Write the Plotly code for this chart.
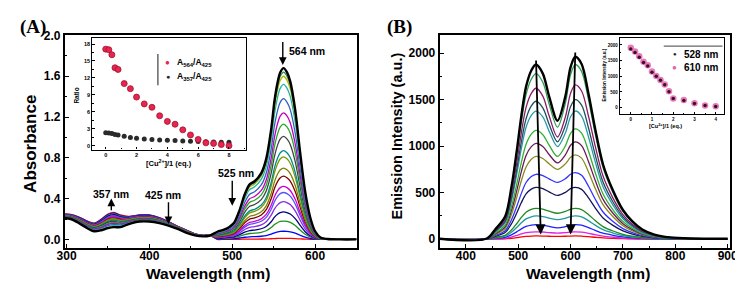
import plotly.graph_objects as go

W, H = 743, 282
def PX(p): return p / W
def PY(p): return 1 - p / H

# ---------------- Panel A: absorption titration ----------------
uv_wl   = [298, 305, 315, 325, 333, 342, 350, 357, 365, 375, 388, 400, 412, 423, 435, 445, 455, 465, 472]
uv_low  = [0.21, 0.20, 0.16, 0.11, 0.08, 0.09, 0.11, 0.12, 0.12, 0.15, 0.175, 0.175, 0.16, 0.135, 0.10, 0.065, 0.04, 0.03, 0.035]
uv_high = [0.25, 0.245, 0.22, 0.18, 0.16, 0.20, 0.25, 0.265, 0.24, 0.225, 0.24, 0.24, 0.215, 0.175, 0.125, 0.09, 0.055, 0.04, 0.045]
vis_wl  = [482, 490, 496, 502, 509, 515, 521, 527, 535, 541, 547, 551, 555, 558, 562, 566, 570, 576, 582, 588, 594, 600, 607, 615, 630, 650]
vis_top = [0.075, 0.095, 0.12, 0.16, 0.29, 0.44, 0.54, 0.57, 0.65, 0.79, 1.08, 1.36, 1.55, 1.64, 1.68, 1.64, 1.55, 1.27, 0.85, 0.47, 0.22, 0.08, 0.016, 0.004, 0.0, 0.0]
peak564 = [1.68, 1.64, 1.60, 1.52, 1.38, 1.24, 1.13, 1.01, 0.87, 0.81, 0.70, 0.62, 0.52, 0.46, 0.37, 0.27, 0.18, 0.08, 0.01]
colors_A = ["#000000", "#2e8b57", "#b5b800", "#20b2aa", "#3060c0", "#c000c0", "#22aa22", "#404040",
            "#008b8b", "#7a9a00", "#808000", "#800000", "#d000d0", "#5050ff", "#8a2be2", "#000080",
            "#209020", "#0000ff", "#ff0000"]

# inset A
cu_A = [0, 0.2, 0.4, 0.6, 0.8, 1.2, 1.6, 2.0, 2.5, 3.0, 3.5, 4.0, 4.5, 5.0, 5.5, 6.0, 6.5, 7.0, 7.5, 8.0]
ratio_564 = [17.1, 17.0, 16.1, 13.8, 13.5, 11.0, 10.1, 8.6, 7.4, 6.8, 5.3, 4.3, 3.8, 2.8, 1.9, 1.1, 0.5, 0.4, 0.2, 0.0]
ratio_357 = [2.3, 2.25, 2.15, 2.0, 1.9, 1.65, 1.45, 1.3, 1.2, 1.1, 1.0, 0.95, 0.9, 0.85, 0.8, 0.75, 0.7, 0.65, 0.6, 0.6]

# ---------------- Panel B: emission titration ----------------
em_wl  = [350, 440, 456, 475, 487, 497, 506, 515, 525, 534, 547, 559, 575, 590, 600, 609, 621, 634, 647, 662, 681, 700, 718, 737, 760, 790, 830, 900]
em_top = [5, 8, 105, 244, 558, 942, 1326, 1640, 1814, 1878, 1780, 1536, 1274, 1536, 1850, 1961, 1884, 1570, 1186, 803, 523, 314, 192, 105, 50, 20, 8, 5]
em_p528   = [1878, 1780, 1623, 1483, 1378, 1169, 1030, 890, 698, 558, 332, 250, 157, 80, 35]
em_valley = [1274, 1204, 1099, 1047, 995, 890, 820, 750, 611, 471, 279, 210, 122, 65, 30]
em_p610   = [1961, 1878, 1658, 1500, 1378, 1187, 1047, 907, 715, 558, 332, 250, 157, 80, 35]
colors_B = ["#000000", "#2e9e4f", "#8b1a6b", "#1f4f5f", "#2a9aa8", "#33b033", "#6a1a5a", "#8a8a20",
            "#3333ff", "#14145a", "#228822", "#209a9a", "#2020ff", "#e020e0", "#ff0000"]

# inset B
cu_B = [0, 0.2, 0.4, 0.6, 0.8, 1.0, 1.2, 1.4, 1.6, 1.8, 2.0, 2.5, 3.0, 3.5, 4.0]
int_610 = [1910, 1790, 1640, 1460, 1350, 1150, 1010, 880, 740, 520, 290, 240, 140, 70, 40]
int_528 = [1870, 1760, 1610, 1440, 1330, 1130, 1000, 870, 730, 510, 290, 230, 130, 65, 35]

fig = go.Figure()

# Panel A curves (drawn bottom-first so the black curve is on top)
p0 = peak564[0]
for i in reversed(range(len(peak564))):
    s = peak564[i] / p0
    t = 1 - s
    uv = [lo + t * (hi - lo) for lo, hi in zip(uv_low, uv_high)]
    vis = [v * s for v in vis_top]
    fig.add_trace(go.Scatter(x=uv_wl + vis_wl, y=uv + vis, mode="lines",
                             line=dict(color=colors_A[i], width=2.4 if i == 0 else 1.3, shape="spline", smoothing=0.9),
                             xaxis="x", yaxis="y", showlegend=False, hoverinfo="skip"))

# Panel B curves
k1, kv, k2 = em_wl.index(534), em_wl.index(575), em_wl.index(609)
t1, tv, t2 = em_top[k1], em_top[kv], em_top[k2]
for i in reversed(range(len(em_p610))):
    p1, v, p2 = em_p528[i], em_valley[i], em_p610[i]
    ys = []
    for k, tval in enumerate(em_top):
        if k <= k1:
            ys.append(tval * p1 / t1)
        elif k < kv:
            f = (tval - tv) / (t1 - tv); ys.append(v + f * (p1 - v))
        elif k == kv:
            ys.append(v)
        elif k < k2:
            f = (tval - tv) / (t2 - tv); ys.append(v + f * (p2 - v))
        else:
            ys.append(tval * p2 / t2)
    fig.add_trace(go.Scatter(x=em_wl, y=ys, mode="lines",
                             line=dict(color=colors_B[i], width=2.4 if i == 0 else 1.3, shape="spline", smoothing=0.9),
                             xaxis="x2", yaxis="y2", showlegend=False, hoverinfo="skip"))

# Inset A
fig.add_trace(go.Scatter(x=cu_A, y=ratio_357, mode="markers",
                         marker=dict(color="#2a2a2a", size=5), xaxis="x3", yaxis="y3", showlegend=False))
fig.add_trace(go.Scatter(x=cu_A, y=ratio_564, mode="markers",
                         marker=dict(color="#e8254f", size=6, line=dict(color="#a01030", width=0.8)),
                         xaxis="x3", yaxis="y3", showlegend=False))
# Inset B
fig.add_trace(go.Scatter(x=cu_B, y=int_610, mode="markers",
                         marker=dict(color="rgba(230,100,170,0.85)", size=6.5), xaxis="x4", yaxis="y4", showlegend=False))
fig.add_trace(go.Scatter(x=cu_B, y=int_528, mode="markers",
                         marker=dict(color="#3a1030", size=3.5), xaxis="x4", yaxis="y4", showlegend=False))

BOLD = dict(family="Liberation Sans, Arial", color="black", weight="bold")
def tf(size):
    d = dict(BOLD); d["size"] = size; return d

def ax(domain, rng, anchor, dtick, tick0, minor_dtick, fsize, lw, tlen, fmt=None, standoff=0):
    d = dict(domain=domain, range=rng, anchor=anchor, showline=True, linecolor="black", linewidth=lw,
             mirror=True, ticks="inside", ticklen=tlen, tickwidth=1.2, tickcolor="black",
             showgrid=False, zeroline=False, tickmode="linear", dtick=dtick, tick0=tick0,
             tickfont=tf(fsize), ticklabelstandoff=standoff,
             minor=dict(dtick=minor_dtick, tick0=tick0, ticks="inside", ticklen=max(1, tlen / 2), tickcolor="black", showgrid=False))
    if fmt:
        d["tickformat"] = fmt
    return d

fig.update_layout(
    width=W, height=H, margin=dict(l=0, r=0, t=0, b=0),
    paper_bgcolor="white", plot_bgcolor="white", showlegend=False,
    xaxis=ax([PX(50), PX(348)], [298, 650], "y", 100, 300, 50, 12, 2, 4, standoff=-4),
    yaxis=ax([PY(239), PY(21)], [-0.085, 2.0], "x", 0.4, 0, 0.2, 12, 2, 4, ".1f"),
    xaxis2=ax([PX(433), PX(730)], [350, 905], "y2", 100, 400, 50, 12, 2, 4, standoff=-4),
    yaxis2=ax([PY(239), PY(21)], [-95, 2190], "x2", 500, 0, 250, 12, 2, 4),
    xaxis3=ax([PX(78), PX(235)], [-0.87, 9.1], "y3", 2, 0, 1, 5.5, 1.3, 2.5),
    yaxis3=ax([PY(138), PY(24)], [-0.69, 19.0], "x3", 3, 0, 1.5, 5.5, 1.3, 2.5),
    xaxis4=ax([PX(617), PX(724)], [-0.52, 4.41], "y4", 1, 0, 0.5, 4.5, 1.2, 2),
    yaxis4=ax([PY(102), PY(24)], [-218, 2208], "x4", 500, 0, 250, 4.5, 1.2, 2),
)

ann = []
def pa(text, x, y, size, xanchor="center", yanchor="middle", angle=0, family="Liberation Sans, Arial"):
    ann.append(dict(text=text, x=PX(x), y=PY(y), xref="paper", yref="paper", showarrow=False,
                    xanchor=xanchor, yanchor=yanchor, textangle=angle,
                    font=dict(family=family, size=size, color="black", weight="bold")))

# panel letters & axis titles
pa("(A)", 2, 12, 19, xanchor="left", family="Liberation Serif, Times New Roman")
pa("(B)", 377, 12, 19, xanchor="left", family="Liberation Serif, Times New Roman")
pa("Absorbance", 15.5, 132, 17, angle=-90)
pa("Wavelength (nm)", 196, 265, 15.5)
pa("Emission Intensity (a.u.)", 389, 124, 14.5, angle=-90)
pa("Wavelength (nm)", 585, 265, 15.5)
# inset titles
pa("Ratio", 62, 83, 6.5, angle=-90)
pa("[Cu<sup>2+</sup>]/1 (eq.)", 156, 152, 7.5)
pa("Emission Intensity (a.u.)", 601, 62, 4.6, angle=-90)
pa("[Cu<sup>2+</sup>]/1 (eq.)", 664, 114, 5.5)
# inset legends
pa("<span style='color:#e8254f'>●</span>", 155, 49, 8)
pa("<span style='color:#2a2a2a'>●</span>", 155, 63, 7)
pa("A<sub>564</sub>/A<sub>425</sub>", 162, 49, 8.5, xanchor="left")
pa("A<sub>357</sub>/A<sub>425</sub>", 162, 63, 8.5, xanchor="left")
pa("<span style='color:#222'>●</span>", 673, 40, 6)
pa("<span style='color:#e064aa'>●</span>", 673, 54, 8)
pa("528 nm", 681, 40, 10, xanchor="left")
pa("610 nm", 681, 54, 10, xanchor="left")

# peak labels panel A
def da(text, x, y, xr, yr, size=10.5, xanchor="center"):
    ann.append(dict(text=text, x=x, y=y, xref=xr, yref=yr, showarrow=False, xanchor=xanchor,
                    font=dict(family="Liberation Sans, Arial", size=size, color="black", weight="bold")))
def arrow(x0, y0, x1, y1, xr, yr, w=1.4):
    ann.append(dict(text="", x=x1, y=y1, ax=x0, ay=y0, xref=xr, yref=yr, axref=xr, ayref=yr,
                    showarrow=True, arrowhead=2, arrowsize=1.1, arrowwidth=w, arrowcolor="black"))

da("564 nm", 566, 1.85, "x", "y", xanchor="left")
arrow(561, 1.95, 561, 1.71, "x", "y")
da("525 nm", 504, 0.65, "x", "y")
arrow(500, 0.59, 500, 0.33, "x", "y")
da("425 nm", 416, 0.44, "x", "y")
arrow(423, 0.38, 423, 0.15, "x", "y")
da("357 nm", 354, 0.45, "x", "y")
arrow(354, 0.27, 354, 0.40, "x", "y")
# panel B arrows
arrow(534, 1937, 543, 52, "x2", "y2", 1.8)
arrow(609, 2024, 600, 52, "x2", "y2", 1.8)

fig.update_layout(annotations=ann, shapes=[
    dict(type="line", xref="paper", yref="paper", x0=PX(145), x1=PX(145), y0=PY(40), y1=PY(72),
         line=dict(color="#666", width=1.5)),
    dict(type="line", xref="paper", yref="paper", x0=PX(662), x1=PX(722), y0=PY(32), y1=PY(32),
         line=dict(color="#666", width=1.2)),
])

fig.write_html("out.html")
